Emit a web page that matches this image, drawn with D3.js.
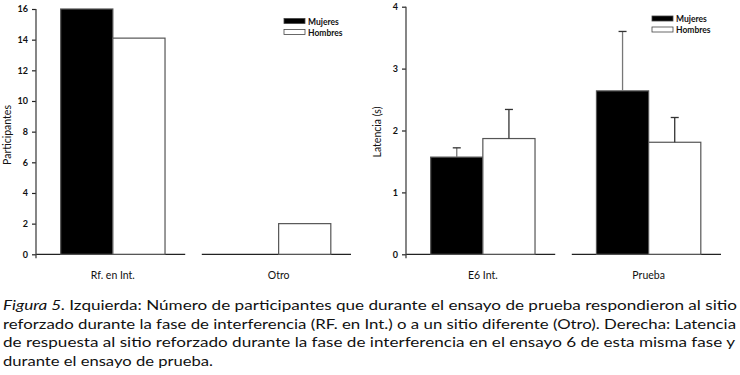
<!DOCTYPE html>
<html>
<head>
<meta charset="utf-8">
<script src="https://cdn.jsdelivr.net/npm/d3@7"></script>
<style>
  body { margin: 0; background: #fff; }
  svg { display: block; }
  text { font-family: "Lato", "Open Sans", sans-serif; fill: #111; }
</style>
</head>
<body>
<div id="chart-area"></div>
<script>
// data
var series = ["Mujeres", "Hombres"];
var leftGroups = ["Rf. en Int.", "Otro"];
var leftValues = [[16, 14.1], [0, 2]];          // [Mujeres, Hombres] per group
var leftTicks = [0, 2, 4, 6, 8, 10, 12, 14, 16];

var rightGroups = ["E6 Int.", "Prueba"];
var rightValues = [[1.57, 1.87], [2.64, 1.81]];
var rightErrors = [[0.15, 0.47], [0.96, 0.40]];
var rightTicks = [0, 1, 2, 3, 4];

var captionLines = [
    "Izquierda: Número de participantes que durante el ensayo de prueba respondieron al sitio",
    "reforzado durante la fase de interferencia (RF. en Int.) o a un sitio diferente (Otro). Derecha: Latencia",
    "de respuesta al sitio reforzado durante la fase de interferencia en el ensayo 6 de esta misma fase y",
    "durante el ensayo de prueba."
];

var W = 740, H = 375;
var svg = d3.select("#chart-area").append("svg").attr("width", W).attr("height", H);

var fill = d3.scaleOrdinal().domain(series).range(["#000", "#fff"]);

function panel(opts) {
    var g = svg.append("g").attr("transform", `translate(${opts.ox},0)`);
    var axisX = 36, yBase = 254.3;

    var x0 = d3.scaleBand().domain(opts.groups).range([axisX, 351]).paddingInner(0.1).paddingOuter(0);
    var x1 = d3.scaleBand().domain(series).range([0, x0.bandwidth()]).paddingOuter(0.43).align(0.55);
    var y = d3.scaleLinear().domain(opts.domain).range([yBase, opts.yTop]);

    // baseline segments
    g.selectAll("line.base").data(opts.groups).enter().append("line")
        .attr("class", "base")
        .attr("x1", d => x0(d)).attr("x2", d => x0(d) + x0.bandwidth())
        .attr("y1", yBase).attr("y2", yBase)
        .attr("stroke", "#222").attr("stroke-width", 1.3);

    // y axis
    var yAxis = d3.axisLeft(y).tickValues(opts.ticks).tickFormat(d3.format("d")).tickSize(4).tickPadding(4);
    var ya = g.append("g").attr("transform", `translate(${axisX},0)`).call(yAxis);
    ya.select(".domain").remove();
    ya.append("line").attr("x1", 0).attr("x2", 0).attr("y1", opts.yTop).attr("y2", yBase + 4)
        .attr("stroke", "#444").attr("stroke-width", 1.3);
    ya.selectAll(".tick line").attr("stroke", "#222").attr("stroke-width", 1.2);
    ya.selectAll(".tick text").style("font-family", "Lato, sans-serif").style("font-size", "9px")
        .style("font-weight", "bold").attr("fill", "#111");

    // bars
    var rows = opts.groups.map((gr, i) => series.map((s, j) => ({
        group: gr, s: s, v: opts.values[i][j], e: opts.errors ? opts.errors[i][j] : null
    })));
    var flat = rows.flat();

    g.selectAll("rect.bar").data(flat.filter(d => d.v > 0)).enter().append("rect")
        .attr("class", "bar")
        .attr("x", d => x0(d.group) + x1(d.s))
        .attr("y", d => y(d.v))
        .attr("width", x1.bandwidth())
        .attr("height", d => yBase - y(d.v))
        .attr("fill", d => fill(d.s))
        .attr("stroke", "#555").attr("stroke-width", 1.2);

    // error bars
    if (opts.errors) {
        var eb = g.selectAll("g.err").data(flat).enter().append("g").attr("class", "err");
        eb.append("line")
            .attr("x1", d => x0(d.group) + x1(d.s) + x1.bandwidth() / 2)
            .attr("x2", d => x0(d.group) + x1(d.s) + x1.bandwidth() / 2)
            .attr("y1", d => y(d.v)).attr("y2", d => y(d.v + d.e))
            .attr("stroke", d => d.s === "Mujeres" ? "#777" : "#333").attr("stroke-width", 1.3);
        eb.append("line")
            .attr("x1", d => x0(d.group) + x1(d.s) + x1.bandwidth() / 2 - 4)
            .attr("x2", d => x0(d.group) + x1(d.s) + x1.bandwidth() / 2 + 4)
            .attr("y1", d => y(d.v + d.e)).attr("y2", d => y(d.v + d.e))
            .attr("stroke", "#333").attr("stroke-width", 1.3);
    }

    // group labels
    g.selectAll("text.grp").data(opts.groups).enter().append("text")
        .attr("class", "grp")
        .attr("x", d => x0(d) + x1("Hombres"))
        .attr("y", 279)
        .attr("text-anchor", "middle")
        .style("font-size", "10.5px")
        .text(d => d);

    // y label
    g.append("text")
        .attr("transform", `translate(${opts.labelX},${opts.labelY}) rotate(-90)`)
        .attr("text-anchor", "middle")
        .style("font-size", "10.5px")
        .text(opts.ylabel);

    // legend
    var lg = g.append("g").attr("transform", `translate(${opts.legX},${opts.legY})`);
    series.forEach((s, i) => {
        var row = lg.append("g").attr("transform", `translate(0,${i * 11})`);
        row.append("rect").attr("width", 21).attr("height", 5)
            .attr("fill", fill(s)).attr("stroke", "#444").attr("stroke-width", 0.8);
        row.append("text").attr("x", 24).attr("y", 6)
            .style("font-size", "8.5px").style("font-weight", "bold")
            .text(s);
    });
}

panel({ ox: 0, groups: leftGroups, values: leftValues, domain: [0, 16], yTop: 9, ticks: leftTicks,
        ylabel: "Participantes", labelX: 10.5, labelY: 135, legX: 284, legY: 18.5 });
panel({ ox: 370, groups: rightGroups, values: rightValues, errors: rightErrors, domain: [0, 4], yTop: 6.7,
        ticks: rightTicks, ylabel: "Latencia (s)", labelX: 11, labelY: 132, legX: 282, legY: 16 });

// caption
var cap = svg.append("g").style("font-size", "14px");
var baselines = [310, 328.5, 347, 365.5];
var widths = [734, 733, 732, 210];
captionLines.forEach((line, i) => {
    var t = cap.append("text").attr("x", 3).attr("y", baselines[i])
        .attr("textLength", widths[i]).attr("lengthAdjust", "spacingAndGlyphs");
    if (i === 0) {
        t.append("tspan").style("font-style", "italic").text("Figura 5. ");
    }
    t.append("tspan").text(line);
});
</script>
</body>
</html>
